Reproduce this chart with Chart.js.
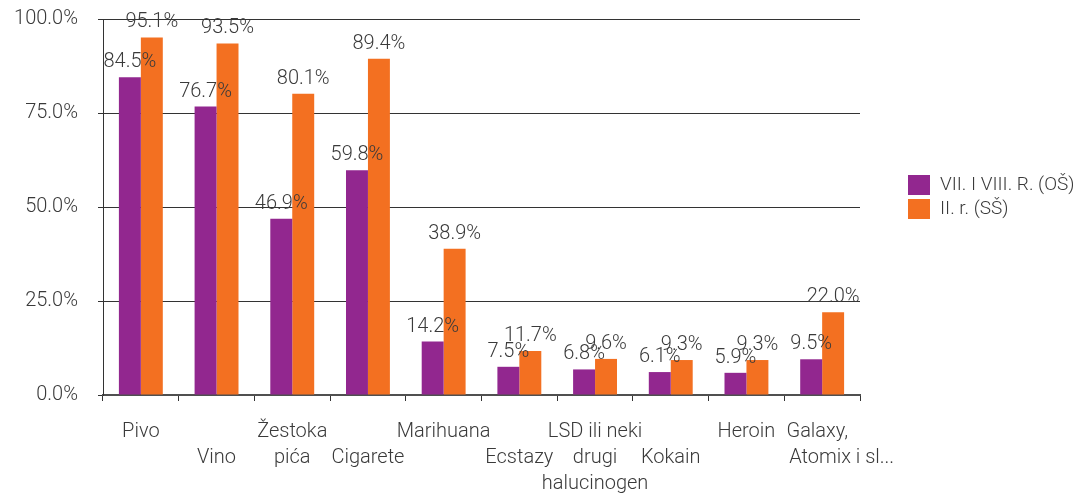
<!DOCTYPE html>
<html>
<head>
<meta charset="utf-8">
<script src="https://cdn.jsdelivr.net/npm/chart.js@4"></script>
<style>
  html, body { margin: 0; padding: 0; background: #fff; }
  canvas { display: block; }
</style>
</head>
<body>
<canvas id="c" width="1084" height="493"></canvas>
<script>
const NB = '\u00a0';
const categories = [
  ['Pivo'], ['', 'Vino'], ['Žestoka', 'pića'], ['', 'Cigarete'], ['Marihuana'],
  ['', 'Ecstazy'], ['LSD ili neki', 'drugi', 'halucinogen'], ['', 'Kokain'], ['Heroin'],
  ['Galaxy,' + NB + NB, NB.repeat(8) + 'Atomix i sl...']
];
const seriesNames = ['VII. I VIII. R. (OŠ)', 'II. r. (SŠ)'];
const osValues = [84.5, 76.7, 46.9, 59.8, 14.2, 7.5, 6.8, 6.1, 5.9, 9.5];
const ssValues = [95.1, 93.5, 80.1, 89.4, 38.9, 11.7, 9.6, 9.3, 9.3, 22.0];
const yTicks = [0, 25, 50, 75, 100];

const PURPLE = '#92278f';
const ORANGE = '#f37021';
const TEXT = '#3a3a3a';
const LINE = '#333333';
const FAMILY = 'Roboto, "Helvetica Neue", Arial, sans-serif';

const valueLabels = {
  id: 'valueLabels',
  afterDatasetsDraw(chart) {
    const ctx = chart.ctx;
    ctx.save();
    ctx.font = '300 20px ' + FAMILY;
    ctx.fillStyle = TEXT;
    ctx.textAlign = 'center';
    ctx.textBaseline = 'middle';
    chart.data.datasets.forEach((ds, di) => {
      chart.getDatasetMeta(di).data.forEach((bar, i) => {
        ctx.fillText(ds.data[i].toFixed(1) + '%', bar.x, bar.y - 15);
      });
    });
    ctx.restore();
  }
};

const sideLegend = {
  id: 'sideLegend',
  afterDraw(chart) {
    const ctx = chart.ctx;
    ctx.save();
    ctx.font = '300 19px ' + FAMILY;
    ctx.textAlign = 'left';
    ctx.textBaseline = 'middle';
    chart.data.datasets.forEach((ds, i) => {
      const y = 175 + i * 24;
      ctx.fillStyle = ds.backgroundColor;
      ctx.fillRect(908, y, 22, 20);
      ctx.fillStyle = TEXT;
      ctx.fillText(ds.label, 940, y + 10);
    });
    ctx.restore();
  }
};

new Chart(document.getElementById('c'), {
  type: 'bar',
  data: {
    labels: categories,
    datasets: [
      { label: seriesNames[0], data: osValues, backgroundColor: PURPLE },
      { label: seriesNames[1], data: ssValues, backgroundColor: ORANGE }
    ]
  },
  options: {
    responsive: false,
    animation: false,
    devicePixelRatio: 1,
    layout: { padding: { top: 19, right: 224, bottom: 0, left: 0 } },
    datasets: { bar: { categoryPercentage: 0.58, barPercentage: 1.0 } },
    plugins: { legend: { display: false }, tooltip: { enabled: false } },
    scales: {
      x: {
        offset: true,
        grid: { display: true, drawOnChartArea: false, drawTicks: true, tickLength: 6, color: LINE, offset: true },
        border: { display: true, color: '#505050', width: 2 },
        ticks: {
          color: TEXT, autoSkip: false, maxRotation: 0, minRotation: 0, padding: 18,
          font: { family: FAMILY, size: 20, weight: '300', lineHeight: '26px' }
        },
        afterFit: s => { s.height = 98; s.paddingLeft = 0; s.paddingRight = 0; }
      },
      y: {
        min: 0, max: 100,
        afterBuildTicks: s => { s.ticks = yTicks.map(v => ({ value: v })); },
        grid: { color: LINE, lineWidth: 1, tickLength: 5 },
        border: { display: true, color: LINE, width: 1 },
        ticks: {
          color: TEXT, padding: 20,
          font: { family: FAMILY, size: 20, weight: '300' },
          callback: v => v.toFixed(1) + '%'
        },
        afterFit: s => { s.width = 103; s.paddingTop = 0; s.paddingBottom = 0; }
      }
    }
  },
  plugins: [valueLabels, sideLegend]
});
</script>
</body>
</html>
